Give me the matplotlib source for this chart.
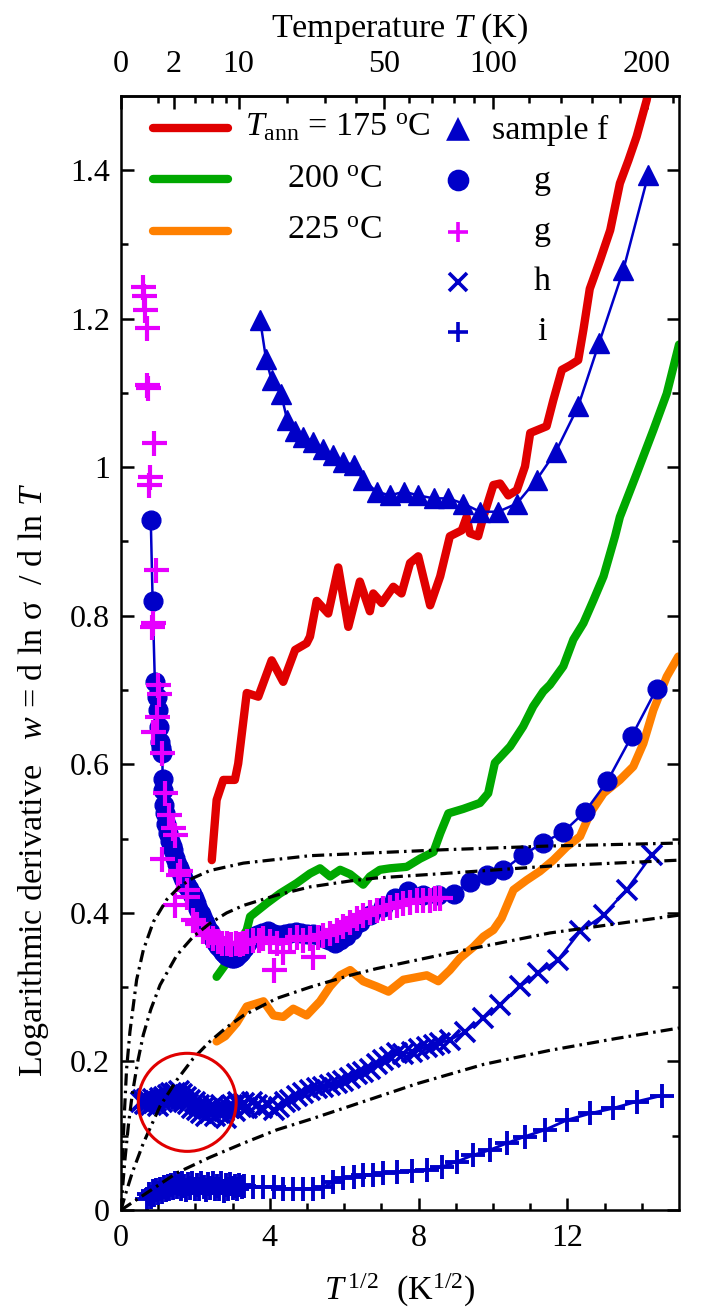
"""
Logarithmic derivative w = d ln sigma / d ln T vs T^1/2 for several samples
"""

import numpy as np, matplotlib
matplotlib.use("Agg")
import matplotlib.pyplot as plt
from matplotlib.patches import Ellipse

plt.rcParams["font.family"] = ["Liberation Serif", "DejaVu Serif"]
plt.rcParams["mathtext.fontset"] = "custom"
plt.rcParams["mathtext.rm"] = "Liberation Serif"
plt.rcParams["mathtext.it"] = "Liberation Serif:italic"

# ---- data (x = T^1/2, y = w) ----
red_x = [2.44, 2.57, 2.75, 3.06, 3.15, 3.38, 3.69, 4.05, 4.36, 4.68, 4.99, 5.08, 5.26, 5.57, 5.84,
         6.11, 6.42, 6.69, 6.78, 7.01, 7.32, 7.54, 7.77, 7.99, 8.31, 8.58, 8.84, 9.16, 9.29, 9.38,
         9.60, 9.74, 10.01, 10.19, 10.41, 10.64, 10.86, 11.00, 11.44, 11.62, 11.85, 12.07, 12.29,
         12.43, 12.60, 12.88, 13.15, 13.41, 13.64, 13.86, 14.13, 14.22]
red_y = [0.471, 0.552, 0.579, 0.579, 0.601, 0.696, 0.691, 0.740, 0.711, 0.754, 0.763, 0.772, 0.820,
         0.803, 0.865, 0.785, 0.846, 0.806, 0.830, 0.817, 0.839, 0.830, 0.871, 0.880, 0.814, 0.853,
         0.907, 0.915, 0.933, 0.911, 0.907, 0.933, 0.976, 0.978, 0.962, 0.969, 1.001, 1.046, 1.055,
         1.090, 1.131, 1.137, 1.144, 1.185, 1.240, 1.279, 1.319, 1.382, 1.413, 1.445, 1.494, 1.520]

green_x = [2.57, 2.80, 3.38, 3.47, 3.92, 4.27, 4.72, 5.08, 5.35, 5.62, 5.89, 6.16, 6.51, 6.69, 6.96,
           7.23, 7.68, 8.04, 8.40, 8.58, 8.80, 9.20, 9.65, 9.87, 10.05, 10.46, 10.81, 11.08, 11.35,
           11.53, 11.89, 12.16, 12.43, 12.70, 12.97, 13.28, 13.41, 13.86, 14.31, 14.67, 14.85, 15.0]
green_y = [0.314, 0.330, 0.377, 0.395, 0.413, 0.426, 0.440, 0.453, 0.460, 0.449, 0.458, 0.452,
           0.438, 0.449, 0.458, 0.460, 0.462, 0.473, 0.482, 0.507, 0.534, 0.540, 0.548, 0.561,
           0.602, 0.624, 0.651, 0.678, 0.698, 0.707, 0.732, 0.768, 0.790, 0.821, 0.853, 0.907,
           0.933, 0.991, 1.050, 1.099, 1.135, 1.165]

orange_x = [2.57, 2.80, 3.11, 3.38, 3.83, 4.10, 4.36, 4.63, 4.99, 5.35, 5.62, 5.89, 6.16, 6.51,
            6.87, 7.19, 7.59, 8.22, 8.53, 8.84, 9.11, 9.47, 9.74, 10.01, 10.23, 10.55, 10.90,
            11.26, 11.62, 11.98, 12.34, 12.61, 12.97, 13.41, 13.77, 14.04, 14.31, 14.67, 14.98]
orange_y = [0.227, 0.234, 0.252, 0.274, 0.281, 0.262, 0.260, 0.271, 0.262, 0.281, 0.301, 0.316,
            0.323, 0.308, 0.301, 0.294, 0.310, 0.316, 0.308, 0.323, 0.339, 0.354, 0.368, 0.377,
            0.393, 0.431, 0.444, 0.456, 0.471, 0.489, 0.503, 0.534, 0.561, 0.579, 0.597, 0.628,
            0.673, 0.718, 0.745]

f_x = [3.74, 3.90, 4.05, 4.30, 4.47, 4.68, 4.90, 5.17, 5.44, 5.71, 5.98, 6.25, 6.51, 6.87, 7.23,
       7.61, 7.99, 8.40, 8.80, 9.20, 9.65, 10.14, 10.64, 11.17, 11.69, 12.29, 12.85, 13.50, 14.17]
f_y = [1.198, 1.145, 1.117, 1.099, 1.063, 1.048, 1.041, 1.034, 1.025, 1.016, 1.007, 1.003, 0.983,
       0.967, 0.962, 0.967, 0.962, 0.958, 0.958, 0.951, 0.940, 0.940, 0.951, 0.983, 1.021, 1.082,
       1.167, 1.265, 1.393]

g_x = [0.80, 0.85, 0.91, 0.96, 0.99, 1.02, 1.05, 1.08, 1.11, 1.12, 1.14, 1.16, 1.19, 1.21, 1.26,
       1.32, 1.37, 1.41, 1.46, 1.50, 1.55, 1.60, 1.66, 1.72, 1.78, 1.84, 1.90, 1.96, 2.02, 2.08,
       2.14, 2.20, 2.26, 2.32, 2.38, 2.44, 2.50, 2.56, 2.62, 2.68, 2.74, 2.80, 2.86, 2.92, 2.98,
       3.04, 3.10, 3.16, 3.22, 3.30, 3.40, 3.52, 3.65, 3.80, 3.95, 4.10, 4.25, 4.40, 4.55, 4.70,
       4.85, 5.00, 5.15, 5.30, 5.45, 5.60, 5.75, 5.90, 6.05, 6.20, 6.42, 6.69, 7.05, 7.37, 7.72,
       8.13, 8.53, 8.94, 9.38, 9.83, 10.28, 10.81, 11.33, 11.89, 12.47, 13.07, 13.73, 14.40]
g_y = [0.929, 0.820, 0.711, 0.690, 0.673, 0.650, 0.630, 0.622, 0.615, 0.580, 0.565, 0.545, 0.534,
       0.520, 0.507, 0.497, 0.490, 0.484, 0.474, 0.466, 0.460, 0.454, 0.447, 0.441, 0.436, 0.432,
       0.426, 0.420, 0.413, 0.405, 0.398, 0.392, 0.386, 0.380, 0.374, 0.368, 0.363, 0.359, 0.355,
       0.351, 0.348, 0.345, 0.342, 0.340, 0.339, 0.339, 0.341, 0.344, 0.348, 0.353, 0.360, 0.366,
       0.370, 0.373, 0.375, 0.372, 0.370, 0.371, 0.373, 0.374, 0.373, 0.371, 0.372, 0.370, 0.366,
       0.363, 0.360, 0.363, 0.369, 0.377, 0.388, 0.397, 0.408, 0.420, 0.429, 0.424, 0.424, 0.426,
       0.442, 0.451, 0.458, 0.478, 0.494, 0.509, 0.536, 0.577, 0.638, 0.702]

g2_x = [0.60, 0.62, 0.645, 0.69, 0.70, 0.72, 0.90, 0.78, 0.76, 0.93, 0.87, 0.82, 1.00, 1.03, 0.96,
        0.87, 1.09, 1.18, 1.30, 1.41, 1.45, 1.09, 1.59, 1.54, 1.77, 1.45, 1.77, 1.94, 2.05, 2.21,
        2.35, 2.48, 2.60, 2.72, 2.84, 2.96, 3.08, 3.20, 3.29, 3.40, 3.56, 3.70, 3.83, 4.10, 4.00,
        4.20, 4.36, 4.54, 4.72, 4.90, 5.08, 5.17, 5.30, 5.44, 5.62, 5.80, 5.98, 6.16, 6.34, 6.51,
        6.69, 6.87, 7.05, 7.23, 7.41, 7.59, 7.77, 7.95, 8.13, 8.31, 8.44, 8.58]
g2_y = [1.243, 1.230, 1.211, 1.187, 1.110, 1.106, 1.033, 0.987, 0.976, 0.861, 0.790, 0.785, 0.707,
        0.694, 0.664, 0.644, 0.615, 0.561, 0.532, 0.514, 0.505, 0.473, 0.456, 0.451, 0.431, 0.411,
        0.422, 0.390, 0.385, 0.375, 0.370, 0.366, 0.362, 0.360, 0.359, 0.358, 0.360, 0.358, 0.359,
        0.362, 0.363, 0.364, 0.366, 0.323, 0.362, 0.360, 0.348, 0.363, 0.368, 0.364, 0.366, 0.341,
        0.368, 0.370, 0.373, 0.377, 0.383, 0.388, 0.393, 0.397, 0.401, 0.404, 0.406, 0.408, 0.411,
        0.413, 0.415, 0.417, 0.418, 0.418, 0.420, 0.420]

h_x = [0.55, 0.60, 0.65, 0.70, 0.75, 0.80, 0.85, 0.90, 0.95, 1.00, 1.05, 1.10, 1.15, 1.20, 1.25,
       1.30, 1.35, 1.40, 1.45, 1.50, 1.55, 1.60, 1.65, 1.70, 1.75, 1.80, 1.86, 1.92, 1.98, 2.04,
       2.10, 2.16, 2.22, 2.28, 2.34, 2.40, 2.46, 2.52, 2.58, 2.64, 2.70, 2.76, 2.82, 2.90, 2.98,
       3.06, 3.14, 3.22, 3.30, 3.40, 3.52, 3.65, 3.80, 3.95, 4.10, 4.25, 4.40, 4.55, 4.72, 4.90,
       5.08, 5.26, 5.44, 5.62, 5.80, 5.98, 6.16, 6.34, 6.51, 6.69, 6.87, 7.05, 7.23, 7.41, 7.59,
       7.81, 8.02, 8.22, 8.40, 8.58, 8.84, 9.25, 9.74, 10.19, 10.73, 11.22, 11.75, 12.34, 12.97,
       13.59, 14.27]
h_y = [0.145, 0.148, 0.143, 0.150, 0.146, 0.141, 0.149, 0.144, 0.147, 0.140, 0.151, 0.145, 0.152,
       0.148, 0.155, 0.150, 0.157, 0.151, 0.158, 0.153, 0.160, 0.150, 0.156, 0.146, 0.152, 0.143,
       0.148, 0.138, 0.145, 0.135, 0.142, 0.131, 0.139, 0.127, 0.136, 0.130, 0.140, 0.126, 0.136,
       0.130, 0.142, 0.133, 0.124, 0.137, 0.141, 0.134, 0.145, 0.139, 0.144, 0.138, 0.146, 0.142,
       0.137, 0.141, 0.135, 0.139, 0.146, 0.148, 0.153, 0.157, 0.162, 0.164, 0.166, 0.168, 0.171,
       0.174, 0.178, 0.183, 0.186, 0.190, 0.196, 0.202, 0.206, 0.211, 0.210, 0.213, 0.217, 0.220,
       0.222, 0.225, 0.229, 0.240, 0.258, 0.276, 0.301, 0.319, 0.337, 0.375, 0.397, 0.431, 0.478]

i_x = [0.70, 0.75, 0.80, 0.85, 0.90, 0.95, 1.00, 1.05, 1.10, 1.15, 1.20, 1.25, 1.30, 1.35, 1.40,
       1.45, 1.50, 1.55, 1.60, 1.65, 1.70, 1.75, 1.80, 1.86, 1.92, 1.98, 2.04, 2.10, 2.16, 2.22,
       2.28, 2.34, 2.40, 2.46, 2.52, 2.58, 2.64, 2.70, 2.76, 2.82, 2.88, 2.94, 3.00, 3.06, 3.12,
       3.18, 3.24, 3.30, 3.56, 3.83, 4.10, 4.36, 4.63, 4.90, 5.17, 5.44, 5.71, 5.98, 6.25, 6.51,
       6.78, 7.05, 7.41, 7.81, 8.22, 8.62, 9.02, 9.47, 9.92, 10.37, 10.86, 11.40, 11.98, 12.61,
       13.23, 13.86, 14.53]
i_y = [0.015, 0.022, 0.018, 0.025, 0.020, 0.027, 0.023, 0.029, 0.024, 0.031, 0.027, 0.033, 0.028,
       0.034, 0.030, 0.036, 0.031, 0.035, 0.029, 0.037, 0.032, 0.027, 0.035, 0.030, 0.036, 0.029,
       0.034, 0.028, 0.036, 0.031, 0.027, 0.035, 0.030, 0.037, 0.029, 0.033, 0.028, 0.036, 0.026,
       0.034, 0.029, 0.035, 0.030, 0.033, 0.029, 0.034, 0.031, 0.033, 0.031, 0.031, 0.031, 0.029,
       0.029, 0.029, 0.029, 0.031, 0.038, 0.043, 0.045, 0.047, 0.047, 0.050, 0.051, 0.053, 0.054,
       0.058, 0.065, 0.074, 0.081, 0.090, 0.099, 0.108, 0.121, 0.130, 0.137, 0.146, 0.154]

# model curves (dash-dot)
m1_x = [0, 0.03, 0.06, 0.10, 0.15, 0.24, 0.42, 0.60, 0.87, 1.23, 1.59, 1.94, 2.39, 3.29, 5.08,
        6.87, 8.67, 11.5, 15.0]
m1_y = [0, 0.050, 0.095, 0.140, 0.190, 0.240, 0.310, 0.350, 0.388, 0.418, 0.436, 0.447, 0.457,
        0.467, 0.477, 0.481, 0.485, 0.490, 0.494]
m2_x = [0, 0.05, 0.10, 0.20, 0.30, 0.45, 0.60, 0.80, 1.05, 1.50, 1.94, 2.39, 2.84, 3.29, 4.19,
        5.08, 6.16, 6.87, 8.67, 11.53, 15.0]
m2_y = [0, 0.035, 0.065, 0.115, 0.155, 0.200, 0.236, 0.270, 0.303, 0.343, 0.368, 0.386, 0.400,
        0.410, 0.424, 0.435, 0.443, 0.447, 0.453, 0.463, 0.471]
m3_x = [0, 0.10, 0.30, 0.60, 1.05, 1.50, 1.94, 2.39, 2.84, 3.29, 4.19, 5.08, 6.16, 6.87, 8.84,
        11.53, 15.0]
m3_y = [0, 0.018, 0.050, 0.090, 0.140, 0.175, 0.204, 0.227, 0.246, 0.262, 0.285, 0.300, 0.316,
        0.325, 0.346, 0.373, 0.397]
m4_x = [0, 0.60, 1.50, 2.39, 3.29, 4.19, 5.08, 6.16, 7.95, 9.74, 11.53, 13.32, 15.0]
m4_y = [0, 0.020, 0.050, 0.071, 0.090, 0.108, 0.122, 0.140, 0.170, 0.196, 0.215, 0.231, 0.245]

top_major = [0, 2, 10, 50, 100, 200]
top_minor = [1, 4, 6, 8, 20, 30, 40, 60, 70, 80, 90, 120, 140, 160, 180, 220]
y_ticks = [0, 0.2, 0.4, 0.6, 0.8, 1.0, 1.2, 1.4]
y_labels = ["0", "0.2", "0.4", "0.6", "0.8", "1", "1.2", "1.4"]

RED, GREEN, ORANGE = "#e00000", "#00a800", "#ff8000"
BLUE, MAG = "#0000c8", "#e600ff"
FS = 23
LFS = 24.5


def main():
    fig = plt.figure(figsize=(7.06, 13.11), dpi=100)
    ax = fig.add_axes([0.1714, 0.0770, 0.7904, 0.8500])

    thick = dict(linewidth=6, solid_capstyle="round", solid_joinstyle="round")
    ax.plot(red_x, red_y, color=RED, **thick)
    ax.plot(green_x, green_y, color=GREEN, **thick)
    ax.plot(orange_x, orange_y, color=ORANGE, **thick)

    ax.plot(f_x, f_y, color=BLUE, lw=1.8, marker="^", ms=14, mec=BLUE, mfc=BLUE)
    ax.plot(g_x, g_y, color=BLUE, lw=1.8, marker="o", ms=13.5, mec=BLUE, mfc=BLUE)
    ax.plot(h_x, h_y, color=BLUE, lw=1.8, marker="x", ms=14, mew=2.6)
    ax.plot(i_x, i_y, color=BLUE, lw=2.0, marker="+", ms=17, mew=2.8)
    ax.plot(g2_x, g2_y, color=MAG, lw=0, marker="+", ms=18, mew=3.0)

    dd = dict(color="black", lw=2.3, linestyle=(0, (3.8, 1.6, 0.8, 1.6)), zorder=6)
    for mx, my in [(m1_x, m1_y), (m2_x, m2_y), (m3_x, m3_y), (m4_x, m4_y)]:
        ax.plot(mx, my, **dd)

    # red circle highlighting the low-T plateau of sample h
    ax.add_patch(Ellipse((1.78, 0.145), 2.63, 0.132, fill=False, ec=RED, lw=2.2, zorder=7))

    ax.set_xlim(0, 15)
    ax.set_ylim(0, 1.5)
    ax.set_xticks([0, 4, 8, 12])
    ax.set_xticks(np.arange(1, 15), minor=True)
    ax.set_yticks(y_ticks)
    ax.set_yticklabels(y_labels)
    ax.set_yticks(np.arange(0.1, 1.5, 0.2), minor=True)
    ax.tick_params(which="both", direction="in", width=1.8, right=True, top=False,
                   labelsize=FS)
    ax.tick_params(which="major", length=9)
    ax.tick_params(which="minor", length=5)
    ax.tick_params(axis="x", pad=10)
    ax.tick_params(axis="y", pad=8)
    for s in ax.spines.values():
        s.set_linewidth(1.8)

    ax.set_xlabel(r"$T^{\,1/2}$  (K$^{1/2}$)", fontsize=LFS, labelpad=14)
    fig.text(0.047, 0.405, r"Logarithmic derivative   $w$ = d ln σ  / d ln $T$",
             rotation=90, ha="center", va="center", fontsize=LFS)

    sec = ax.secondary_xaxis("top", functions=(lambda x: x ** 2,
                                               lambda t: np.sqrt(np.clip(t, 0, None))))
    sec.set_xticks(top_major)
    sec.set_xticklabels([str(t) for t in top_major])
    sec.set_xticks(top_minor, minor=True)
    sec.tick_params(which="both", direction="in", width=1.8, labelsize=FS, pad=12)
    sec.tick_params(which="major", length=9)
    sec.tick_params(which="minor", length=5)
    sec.spines["top"].set_linewidth(1.8)
    fig.text(0.5666, 0.978, r"Temperature $T$ (K)", ha="center", va="center", fontsize=LFS)

    # legend, drawn by hand (layout in axes fraction)
    tr = ax.transAxes
    leg_lines = [(RED, 0.971, r"$T_{\rm ann}$ = 175 $^{\rm o}$C", 0.222),
                 (GREEN, 0.925, r"200 $^{\rm o}$C", 0.297),
                 (ORANGE, 0.879, r"225 $^{\rm o}$C", 0.297)]
    for c, yy, lab, tx in leg_lines:
        ax.plot([0.057, 0.192], [yy, yy], transform=tr, color=c, lw=6,
                solid_capstyle="round")
        ax.text(tx, yy, lab, transform=tr, fontsize=LFS, va="center", ha="left")

    leg_marks = [("^", BLUE, 0.969, "sample f"), ("o", BLUE, 0.924, "g"),
                 ("+", MAG, 0.878, "g"), ("x", BLUE, 0.833, "h"), ("+", BLUE, 0.788, "i")]
    for m, c, yy, lab in leg_marks:
        ax.plot([0.604], [yy], transform=tr, marker=m, color=c, ms=13 if m != "+" else 15,
                mew=2.6, ls="none")
        if lab == "sample f":
            ax.text(0.665, yy, lab, transform=tr, fontsize=LFS, va="center", ha="left")
        else:
            ax.text(0.754, yy, lab, transform=tr, fontsize=LFS, va="center", ha="center")

    fig.savefig("out.png", dpi=100)


if __name__ == "__main__":
    main()
